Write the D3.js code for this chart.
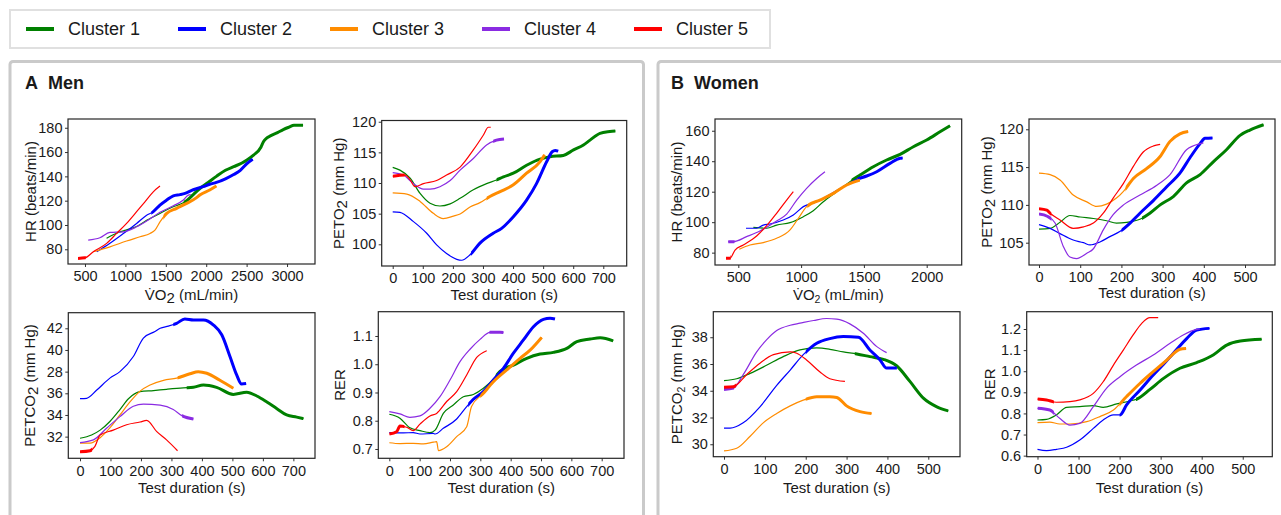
<!DOCTYPE html>
<html lang="en">
<head>
<meta charset="UTF-8">
<title>Clusters - Men / Women</title>
<style>
  body { margin: 0; background: #fff; }
  svg text { font-family: "Liberation Sans", Arial, sans-serif; fill: #1a1a1a; }
</style>
</head>
<body>
<div id="chart"></div>
<script src="https://cdn.jsdelivr.net/npm/d3@7"></script>
<script>
// ---- data ----
const clusters = ["Cluster 1", "Cluster 2", "Cluster 3", "Cluster 4", "Cluster 5"];
const colors   = ["#008000", "#0000ff", "#ff8c00", "#8a2be2", "#ff0000"];

// each panel: one [x, y] list per cluster (1..5)
const menHR = [
  [[768,89],[843,91.7],[920,94],[1007,95.8],[1131,98.5],[1268,104],[1428,109.5],[1593,115],[1676,117],[1758,120],[1840,125],[1921,130],[2024,135],[2126,140],[2238,145],[2340,148],[2442,151],[2504,153.5],[2585,157.5],[2677,164],[2708,168.5],[2739,171],[2800,173.5],[2882,176],[2953,178.5],[3025,180.5],[3086,182],[3198,182]],
  [[645,78],[809,85],[975,93],[1139,101.3],[1263,108],[1345,111],[1428,116.4],[1511,120.5],[1593,124],[1676,125],[1738,126],[1840,129],[1962,131.5],[2044,133.5],[2126,135],[2238,138],[2340,141.5],[2422,145],[2504,150.5],[2575,154]],
  [[603,78],[809,82],[1015,86.8],[1181,90.3],[1305,93],[1366,95.8],[1428,102.6],[1511,109.5],[1634,113.7],[1758,117.8],[1881,122.5],[1921,124.7],[2044,128.8],[2126,132]],
  [[540,87.6],[685,89.5],[809,93.9],[975,94.4],[1139,98.5],[1263,103.2],[1428,110.4],[1593,115.8],[1717,120.5],[1778,124.6],[1809,125]],
  [[414,72.5],[500,73],[603,78],[768,84.9],[892,93.1],[1015,101.3],[1139,110.9],[1242,119.1],[1345,127.3],[1428,132]]
];
const menPETO2 = [
  [[0,112.55],[24,112.1],[58,110.8],[91,108.3],[124,106.7],[157,106.25],[191,106.6],[224,107.5],[268,108.9],[312,109.9],[345,110.5],[368,111],[401,111.6],[445,112.9],[490,113.9],[523,114.3],[567,114.5],[601,115.4],[634,116.2],[656,117],[689,118.1],[722,118.4],[740,118.5]],
  [[0,105.3],[24,105.2],[69,103.7],[113,101.8],[146,99.9],[179,98.5],[213,97.55],[229,97.4],[257,98.3],[290,100.2],[334,101.8],[362,102.6],[401,104.5],[445,107.2],[478,109.9],[512,113.5],[530,115.1],[540,115.3],[550,115.2]],
  [[0,108.4],[47,108.2],[91,107],[135,105.05],[168,104.2],[202,104.6],[224,104.95],[257,106.1],[290,106.8],[323,107.8],[357,108.6],[401,109.7],[445,111.6],[490,113.5],[505,114.6]],
  [[0,111.7],[35,111.3],[69,109.9],[102,109],[124,109],[157,109.4],[191,110.4],[224,112.1],[268,114],[312,116.2],[345,117],[370,117.2]],
  [[0,111.1],[41,111.3],[58,110.5],[74,109.4],[102,109.9],[146,110.4],[179,111.3],[224,112.6],[268,115.4],[301,117.8],[318,119.1],[326,119.1]]
];
const menPETCO2 = [
  [[0,31.85],[38,32.15],[66,32.6],[98,33.4],[131,34.5],[159,35.5],[197,36.15],[241,36.25],[284,36.37],[339,36.5],[372,36.55],[405,36.77],[448,36.55],[503,35.9],[547,36.1],[580,35.75],[613,35.2],[645,34.6],[678,34],[711,33.8],[733,33.66]],
  [[0,35.5],[22,35.54],[55,36.3],[98,37.4],[131,38],[175,39.4],[208,41.1],[246,41.7],[263,42],[290,42.2],[317,42.46],[344,42.86],[372,42.77],[405,42.77],[438,42.3],[465,41.4],[492,39.4],[514,37.7],[530,36.86],[545,36.9]],
  [[0,31.4],[33,31.4],[66,31.9],[98,32.8],[131,34],[164,35.2],[197,36.2],[230,36.77],[274,37.2],[317,37.4],[361,37.8],[388,38],[416,37.85],[459,37.2],[503,36.46]],
  [[0,31.45],[44,31.7],[88,32.8],[131,33.85],[175,34.8],[208,35],[263,34.9],[306,34.5],[334,33.94],[372,33.63]],
  [[0,30.6],[33,30.7],[49,31.1],[66,32.15],[109,32.6],[153,33.1],[197,33.35],[219,33.5],[252,32.46],[284,31.7],[320,30.7]]
];
const menRER = [
  [[0,0.823],[35,0.809],[68,0.775],[101,0.765],[134,0.758],[151,0.767],[178,0.826],[211,0.856],[244,0.885],[277,0.893],[310,0.915],[343,0.947],[365,0.975],[409,0.997],[453,1.021],[497,1.036],[541,1.042],[585,1.056],[618,1.08],[662,1.089],[695,1.094],[738,1.083]],
  [[0,0.758],[46,0.757],[79,0.758],[101,0.753],[145,0.755],[151,0.753],[178,0.773],[222,0.806],[255,0.85],[277,0.876],[310,0.903],[343,0.944],[376,0.985],[409,1.039],[442,1.086],[475,1.133],[508,1.159],[530,1.163],[546,1.16]],
  [[0,0.722],[35,0.719],[79,0.72],[112,0.718],[145,0.724],[156,0.726],[162,0.694],[189,0.708],[222,0.744],[255,0.779],[271,0.85],[310,0.897],[343,0.938],[387,0.98],[431,1.021],[464,1.05],[502,1.095]],
  [[0,0.832],[35,0.824],[68,0.812],[101,0.817],[134,0.844],[167,0.885],[200,0.944],[233,1.009],[266,1.053],[299,1.088],[332,1.113],[365,1.113],[376,1.112]],
  [[0,0.753],[24,0.761],[35,0.781],[57,0.777],[79,0.765],[101,0.788],[134,0.817],[156,0.826],[189,0.868],[222,0.903],[255,0.962],[288,1.024],[321,1.048]]
];
const womenHR = [
  [[620,96.6],[726,96],[805,98.1],[912,99.7],[1018,103.6],[1097,107.5],[1177,113.4],[1283,120],[1389,126.6],[1469,130.9],[1575,136.4],[1681,140.8],[1788,144.5],[1894,149.5],[2000,153.9],[2106,159.3],[2186,163.3]],
  [[561,96],[646,96],[699,98.1],[752,98.8],[858,101.4],[938,104.7],[1018,110.2],[1124,113.4],[1230,118.2],[1336,123.3],[1442,128.1],[1522,130.3],[1602,133.1],[1708,138.6],[1788,141.9],[1809,142.1]],
  [[508,82.2],[593,85],[699,86.6],[805,89.4],[912,94.9],[978,102.5],[1044,110.2],[1150,114.5],[1257,118.9],[1363,124.4],[1469,127.6]],
  [[420,87.2],[460,87.2],[566,90.5],[672,94.2],[805,100.8],[885,105.3],[965,114.5],[1044,122.2],[1124,128.7],[1190,133.1]],
  [[402,76.3],[434,76.3],[474,81.7],[540,85],[646,90.9],[726,97.7],[805,105.8],[885,114.5],[938,120]]
];
const womenPETO2 = [
  [[0,106.8],[27,106.9],[51,107.7],[75,108.6],[100,108.4],[132,108.2],[164,107.9],[188,107.6],[213,107.7],[245,108.1],[269,108.9],[294,110],[326,111.1],[358,112.9],[391,114],[423,115.7],[455,117.3],[488,119.2],[512,119.9],[545,120.6]],
  [[0,107.4],[27,106.9],[51,106.2],[83,105.35],[108,105],[124,104.7],[148,105.1],[172,105.8],[197,106.5],[221,107.6],[245,108.9],[278,110.6],[310,112.4],[342,114.2],[366,116.2],[391,118.1],[403,118.8],[421,118.85]],
  [[0,114.2],[27,114],[51,113.3],[83,111.3],[116,110.4],[140,109.8],[164,110.1],[188,110.9],[205,111.8],[229,113.5],[261,114.8],[294,116.4],[318,118.4],[342,119.4],[362,119.7]],
  [[0,108.8],[20,108.5],[39,107.6],[59,104.5],[75,103.1],[91,102.9],[116,103.6],[132,104.2],[156,106.7],[180,108.7],[205,110],[245,111.3],[286,112.6],[318,114],[358,117.3],[391,118.1],[399,118.2]],
  [[0,109.5],[19,109.3],[27,108.9],[51,108],[83,106.9],[108,107.1],[132,107.6],[156,108.9],[180,110.9],[205,112.85],[229,115.1],[253,117],[278,117.8],[294,118]]
];
const womenPETCO2 = [
  [[0,34.76],[31,34.9],[64,35.3],[104,35.9],[145,36.55],[186,37.05],[227,37.2],[259,37.1],[292,36.9],[325,36.75],[357,36.55],[390,36.35],[423,35.85],[455,34.7],[488,33.45],[521,32.8],[549,32.5]],
  [[0,31.2],[15,31.2],[47,31.6],[88,32.8],[129,34.4],[162,35.55],[194,36.7],[227,37.55],[259,37.9],[292,38.05],[329,38],[357,37.05],[382,36.3],[398,35.7],[423,35.7]],
  [[0,29.5],[31,29.7],[64,30.6],[96,31.6],[129,32.3],[162,32.87],[194,33.3],[227,33.56],[259,33.56],[276,33.5],[300,32.87],[333,32.44],[361,32.3]],
  [[0,34.1],[23,34.2],[47,35.2],[80,36.9],[104,37.8],[129,38.5],[162,38.9],[186,39.05],[219,39.25],[251,39.4],[276,39.35],[308,39],[341,38.3],[374,37.3],[398,36.85]],
  [[0,34.26],[23,34.3],[55,35.2],[88,36.06],[121,36.7],[162,36.9],[178,36.8],[202,36.3],[235,35.4],[259,34.9],[296,34.7]]
];
const womenRER = [
  [[0,0.769],[22,0.772],[46,0.793],[71,0.829],[103,0.832],[136,0.837],[160,0.829],[193,0.845],[225,0.859],[241,0.867],[274,0.914],[307,0.966],[347,1.014],[388,1.041],[428,1.077],[461,1.124],[494,1.143],[546,1.151]],
  [[0,0.63],[22,0.624],[46,0.63],[71,0.64],[103,0.674],[136,0.729],[160,0.769],[185,0.793],[201,0.793],[217,0.84],[250,0.911],[282,0.982],[307,1.033],[331,1.085],[364,1.156],[388,1.195],[419,1.203]],
  [[0,0.756],[30,0.759],[54,0.75],[79,0.75],[120,0.761],[152,0.785],[185,0.816],[217,0.88],[250,0.943],[282,0.998],[315,1.053],[347,1.104],[362,1.108]],
  [[0,0.824],[30,0.816],[54,0.777],[79,0.745],[103,0.753],[136,0.832],[168,0.919],[201,0.974],[241,1.029],[282,1.077],[323,1.132],[355,1.172],[388,1.198],[396,1.2]],
  [[0,0.868],[22,0.864],[46,0.853],[79,0.856],[103,0.864],[136,0.895],[160,0.95],[185,1.029],[209,1.1],[233,1.172],[254,1.227],[274,1.254],[294,1.254]]
];

// stretch of each curve that is drawn heavy, [from, to] on the x variable
const menHRBold       = [[1720,3220],[1320,2600],[1470,2150],null,[410,510]];
const menPETO2Bold    = [[345,750],[260,560],[312,510],[334,380],[0,40]];
const menPETCO2Bold   = [[350,740],[306,550],[320,510],[335,380],[0,40]];
const menRERBold      = [[350,740],[260,550],[300,510],[330,380],[0,50]];
const womenHRBold     = [[1400,2200],[1450,1810],[1050,1470],[415,470],[400,440]];
const womenPETO2Bold  = [[250,550],[200,425],[210,365],[0,30],[0,30]];
const womenPETCO2Bold = [[320,550],[200,425],[200,365],[0,25],[0,30]];
const womenRERBold    = [[240,550],[200,420],[200,365],[0,40],[0,40]];

// tick values
const vo2MenTicks   = [500,1000,1500,2000,2500,3000];
const vo2WomenTicks = [500,1000,1500,2000];
const timeMenTicks   = [0,100,200,300,400,500,600,700];
const timeWomenTicks = [0,100,200,300,400,500];
const hrMenTicks    = [80,100,120,140,160,180];
const hrWomenTicks  = [80,100,120,140,160];
const peto2MenTicks = [100,105,110,115,120];
const peto2WomenTicks = [105,110,115,120];
const petco2MenTicks  = [32,34,36,38,40,42];
const petco2MenLabels = ["32","34","36","28","40","42"];
const petco2WomenTicks = [30,32,34,36,38];
const rerMenTicks   = [0.7,0.8,0.9,1.0,1.1];
const rerWomenTicks = [0.6,0.7,0.8,0.9,1.0,1.1,1.2];

// ---- layout ----
const W = 1281, H = 515;
const svg = d3.select("#chart").append("svg").attr("width", W).attr("height", H);
const defs = svg.append("defs");

// group frames
svg.append("rect").attr("x", 10).attr("y", 61.5).attr("width", 633.5).attr("height", 480)
  .attr("rx", 3).attr("fill", "none").attr("stroke", "#cacaca").attr("stroke-width", 3);
svg.append("rect").attr("x", 658).attr("y", 61.5).attr("width", 640).attr("height", 480)
  .attr("rx", 3).attr("fill", "none").attr("stroke", "#cacaca").attr("stroke-width", 3);

// legend
svg.append("rect").attr("x", 10).attr("y", 10).attr("width", 760).attr("height", 38)
  .attr("fill", "#fff").attr("stroke", "#e0e0e0").attr("stroke-width", 2);
const leg = svg.selectAll("g.leg").data(clusters).enter().append("g")
  .attr("transform", (d, i) => `translate(${26 + i * 152},29)`);
leg.append("line").attr("x1", 0).attr("x2", 28).attr("stroke", (d, i) => colors[i]).attr("stroke-width", 4);
leg.append("text").attr("x", 42).attr("dy", "0.36em").style("font-size", "18px").text(d => d);

// group titles
const title = (x, letter, word) => {
  svg.append("text").attr("x", x).attr("y", 89).style("font-size", "18px").style("font-weight", "bold").text(letter);
  svg.append("text").attr("x", x + 23).attr("y", 89).style("font-size", "18px").style("font-weight", "bold").text(word);
};
title(25, "A", "Men");
title(671, "B", "Women");

// label pieces: [text, kind] 0 = normal, 1 = lowered 2, 2 = small subscript
const vo2Label   = (small) => [["V\u0307O", 0], ["2", small ? 2 : 1], [" (mL/min)", 0]];
const peto2Label = (small) => [["PETO", 0], ["2", small ? 2 : 1], [" (mm Hg)", 0]];
const petco2Label = (small) => [["PETCO", 0], ["2", small ? 2 : 1], [" (mm Hg)", 0]];
const durLabel = [["Test duration (s)", 0]];

const panels = [
  { id: "mHR", data: menHR, bold: menHRBold, l: 68, r: 315, t: 119, b: 264, xd: [290, 3346], yd: [67.9, 187.2],
    xt: vo2MenTicks, yt: hrMenTicks, xl: vo2Label(false), yl: [["HR (beats/min)", 0]], ylx: 36, xly: 300 },
  { id: "mPO2", data: menPETO2, bold: menPETO2Bold, l: 381.7, r: 626.7, t: 120.5, b: 266, xd: [-36.6, 777.8], yd: [96.46, 120.2],
    xt: timeMenTicks, yt: peto2MenTicks, xl: durLabel, yl: peto2Label(false), ylx: 344, xly: 300 },
  { id: "mPCO2", data: menPETCO2, bold: menPETCO2Bold, l: 68.3, r: 315, t: 312.7, b: 458.3, xd: [-38.4, 771], yd: [30.0, 43.44],
    xt: timeMenTicks, yt: petco2MenTicks, ylab: petco2MenLabels, xl: durLabel, yl: petco2Label(false), ylx: 34.5, xly: 493 },
  { id: "mRER", data: menRER, bold: menRERBold, l: 378.3, r: 624, t: 311.7, b: 458.3, xd: [-36.3, 773.5], yd: [0.667, 1.186],
    xt: timeMenTicks, yt: rerMenTicks, yf: d3.format(".1f"), xl: durLabel, yl: [["RER", 0]], ylx: 345, xly: 493 },
  { id: "wHR", data: womenHR, bold: womenHRBold, l: 715, r: 961.7, t: 119, b: 265, xd: [314.5, 2278.7], yd: [71.9, 167.7],
    xt: vo2WomenTicks, yt: hrWomenTicks, xl: vo2Label(true), yl: [["HR (beats/min)", 0]], ylx: 681.5, xly: 300 },
  { id: "wPO2", data: womenPETO2, bold: womenPETO2Bold, l: 1029, r: 1275, t: 119, b: 265, xd: [-24.3, 572.8], yd: [102.05, 121.36],
    xt: timeWomenTicks, yt: peto2WomenTicks, xl: durLabel, yl: peto2Label(false), ylx: 992, xly: 298 },
  { id: "wPCO2", data: womenPETCO2, bold: womenPETCO2Bold, l: 713.3, r: 960, t: 311.7, b: 456.7, xd: [-26.2, 577.6], yd: [29.07, 39.91],
    xt: timeWomenTicks, yt: petco2WomenTicks, xl: durLabel, yl: petco2Label(true), ylx: 682, xly: 493 },
  { id: "wRER", data: womenRER, bold: womenRERBold, l: 1026.7, r: 1272.3, t: 311.7, b: 456.7, xd: [-26.3, 572], yd: [0.595, 1.282],
    xt: timeWomenTicks, yt: rerWomenTicks, yf: d3.format(".1f"), xl: durLabel, yl: [["RER", 0]], ylx: 995, xly: 493 }
];

const addPieces = (txt, pieces) => {
  let lowered = false;
  pieces.forEach(([s, kind]) => {
    const t = txt.append("tspan").text(s);
    if (kind === 1) { t.attr("dy", 3); lowered = true; }
    else if (kind === 2) { t.attr("dy", 3).style("font-size", "10.5px"); lowered = true; }
    else if (lowered) { t.attr("dy", -3); lowered = false; }
  });
};

panels.forEach(p => {
  const x = d3.scaleLinear().domain(p.xd).range([p.l, p.r]);
  const y = d3.scaleLinear().domain(p.yd).range([p.b, p.t]);
  const g = svg.append("g");

  const xa = g.append("g").attr("transform", `translate(0,${p.b})`)
    .call(d3.axisBottom(x).tickValues(p.xt).tickSize(3).tickPadding(4).tickSizeOuter(0).tickFormat(d3.format("d")));
  const ya = g.append("g").attr("transform", `translate(${p.l},0)`)
    .call(d3.axisLeft(y).tickValues(p.yt).tickSize(3).tickPadding(2.5).tickSizeOuter(0)
      .tickFormat((d, i) => p.ylab ? p.ylab[i] : (p.yf ? p.yf(d) : d)));
  [xa, ya].forEach(a => {
    a.select(".domain").remove();
    a.selectAll("line").attr("stroke", "#333");
    a.selectAll("text").style("font-size", "14.5px").attr("fill", "#1a1a1a");
  });

  const line = d3.line().x(d => x(d[0])).y(d => y(d[1])).curve(d3.curveMonotoneX);

  p.data.forEach((pts, i) => {
    g.append("path").attr("d", line(pts)).attr("fill", "none")
      .attr("stroke", colors[i]).attr("stroke-width", 1.2).attr("stroke-linejoin", "round");
    const bd = p.bold[i];
    if (bd) {
      const cid = `clip-${p.id}-${i}`;
      defs.append("clipPath").attr("id", cid).append("rect")
        .attr("x", x(bd[0])).attr("y", p.t - 10).attr("width", x(bd[1]) - x(bd[0])).attr("height", p.b - p.t + 20);
      g.append("path").attr("d", line(pts)).attr("fill", "none").attr("clip-path", `url(#${cid})`)
        .attr("stroke", colors[i]).attr("stroke-width", 3).attr("stroke-linejoin", "round");
    }
  });

  g.append("rect").attr("x", p.l).attr("y", p.t).attr("width", p.r - p.l).attr("height", p.b - p.t)
    .attr("fill", "none").attr("stroke", "#262626").attr("stroke-width", 1.2);

  const xt = g.append("text").attr("x", (p.l + p.r) / 2).attr("y", p.xly)
    .attr("text-anchor", "middle").style("font-size", "15px");
  addPieces(xt, p.xl);
  const yt = g.append("text").attr("transform", `translate(${p.ylx},${(p.t + p.b) / 2}) rotate(-90)`)
    .attr("text-anchor", "middle").style("font-size", "15px");
  addPieces(yt, p.yl);
});
</script>
</body>
</html>
